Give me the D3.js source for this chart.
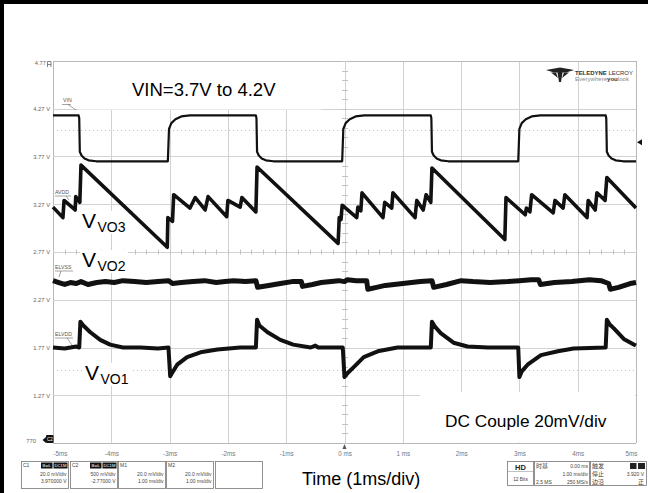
<!DOCTYPE html>
<html><head><meta charset="utf-8">
<script src="https://cdn.jsdelivr.net/npm/d3@7/dist/d3.min.js"></script>
<style>body{margin:0;background:#fff}svg{display:block;font-family:"Liberation Sans",Arial,sans-serif}</style>
</head><body><svg id="c" width="648" height="493"></svg>
<script>
// ---------- data ----------
const timeTicks = [-5,-4,-3,-2,-1,0,1,2,3,4,5];
const timeLabels = ["-5ms","-4ms","-3ms","-2ms","-1ms","0 ms","1 ms","2ms","3ms","4ms","5ms"];
const voltTicks = [4.77,4.27,3.77,3.27,2.77,2.27,1.77,1.27,0.77];
const voltLabels = ["4.77","4.27 V","3.77 V","3.27 V","2.77 V","2.27 V","1.77 V","1.27 V","770"];
const refLevels = [4.05, 1.53];
const triggerLevel = 3.92;

const vinT = [-5,-4.56,-4.55,-4.54,-4.51,-4.46,-4.39,-4.26,-3.03,-3.01,-2.97,-2.90,-2.80,-2.65,
  -1.52,-1.51,-1.50,-1.47,-1.42,-1.35,-1.22,-0.04,-0.02,0.02,0.09,0.19,0.34,
  1.48,1.49,1.50,1.53,1.58,1.65,1.78,2.98,3.00,3.04,3.11,3.21,3.36,
  4.48,4.49,4.50,4.53,4.58,4.65,4.78,5.0];
const vinV = [4.20,4.20,4.17,3.82,3.78,3.75,3.73,3.72,3.72,4.06,4.12,4.16,4.19,4.20,
  4.20,4.17,3.82,3.78,3.75,3.73,3.72,3.72,4.06,4.12,4.16,4.19,4.20,
  4.20,4.17,3.82,3.78,3.75,3.73,3.72,3.72,4.06,4.12,4.16,4.19,4.20,
  4.20,4.17,3.82,3.78,3.75,3.73,3.72,3.72];

const vo3T = [-5.00,-4.83,-4.81,-4.62,-4.61,-4.54,-4.52,-3.04,-3.03,-2.95,-2.93,-2.65,-2.56,-2.39,-2.34,-2.02,-2.00,-1.79,-1.76,-1.52,-1.50,
  -0.11,-0.09,-0.06,-0.04,0.21,0.23,0.28,0.30,0.66,0.69,0.81,0.83,1.21,1.24,1.35,1.40,1.48,1.50,
  2.75,2.77,3.10,3.12,3.18,3.21,3.58,3.61,3.75,3.78,4.16,4.18,4.30,4.33,4.47,4.50,5.00];
const vo3V = [3.24,3.13,3.31,3.21,3.35,3.29,3.68,2.82,3.13,3.09,3.37,3.23,3.34,3.21,3.35,3.14,3.31,3.24,3.34,3.19,3.66,
  2.86,3.13,3.11,3.26,3.13,3.24,3.20,3.39,3.13,3.29,3.23,3.39,3.13,3.31,3.21,3.37,3.29,3.65,
  2.90,3.34,3.16,3.23,3.19,3.37,3.18,3.31,3.23,3.37,3.13,3.31,3.21,3.39,3.31,3.55,3.23];

const vo2T = [-5.00,-4.90,-4.80,-4.70,-4.60,-4.52,-4.40,-4.25,-4.10,-3.95,-3.80,-3.60,-3.40,-3.20,-3.02,-2.95,-2.80,-2.60,-2.40,-2.20,-2.05,-1.90,-1.70,-1.52,
  -1.49,-1.30,-1.10,-0.90,-0.74,-0.72,-0.55,-0.40,-0.10,0.00,0.05,0.20,0.38,0.40,0.55,0.70,1.00,1.30,1.50,1.53,1.75,2.00,2.20,2.50,2.80,3.00,3.20,3.33,3.36,3.60,3.90,4.20,4.40,4.53,4.56,4.70,4.90,5.00];
const vo2V = [2.47,2.45,2.43,2.45,2.44,2.46,2.43,2.45,2.46,2.45,2.47,2.46,2.45,2.46,2.47,2.44,2.45,2.46,2.47,2.45,2.46,2.47,2.46,2.47,
  2.40,2.42,2.44,2.46,2.46,2.41,2.43,2.45,2.47,2.46,2.48,2.47,2.47,2.38,2.40,2.42,2.44,2.46,2.47,2.40,2.43,2.47,2.46,2.45,2.46,2.47,2.48,2.48,2.43,2.45,2.46,2.48,2.47,2.44,2.38,2.40,2.44,2.45];

const vo1T = [-5.00,-4.80,-4.60,-4.55,-4.53,-4.48,-4.36,-4.19,-4.02,-3.80,-3.50,-3.20,-3.02,-2.99,-2.96,-2.87,-2.70,-2.47,-2.18,-1.79,
  -1.52,-1.50,-1.46,-1.32,-1.10,-0.88,-0.58,-0.50,-0.45,-0.03,0.00,0.05,0.15,0.33,0.57,0.91,
  1.48,1.50,1.55,1.65,1.87,2.11,2.46,2.98,3.00,3.04,3.14,3.37,3.66,3.93,4.48,4.50,4.55,4.62,4.79,4.97,5.00];
const vo1V = [1.77,1.76,1.78,1.77,2.04,2.00,1.93,1.85,1.80,1.77,1.77,1.76,1.77,1.47,1.50,1.59,1.67,1.72,1.75,1.77,
  1.77,2.06,2.00,1.93,1.85,1.80,1.77,1.79,1.77,1.77,1.46,1.50,1.56,1.67,1.73,1.77,
  1.77,2.04,1.99,1.92,1.82,1.78,1.77,1.77,1.46,1.52,1.59,1.69,1.73,1.76,1.77,2.06,2.01,1.97,1.86,1.80,1.79];

const boxNames = ["C1","C2","M1","M2",""];
const boxLine1 = ["20.0 mV/div","500 mV/div","20.0 mV/div","20.0 mV/div",""];
const boxLine2 = ["3.970000 V","-2.77000 V","1.00 ms/div","1.00 ms/div",""];

// ---------- drawing ----------
const svg = d3.select("#c");
const W = 648, H = 493;
const x = d3.scaleLinear().domain([-5,5]).range([53,636]);
const y = d3.scaleLinear().domain([0.77,4.77]).range([443,61]);
const px = v => Math.round(v) + 0.5;

svg.append("rect").attr("width",W).attr("height",H).attr("fill","#fff");

// grid
const grid = svg.append("g");
grid.selectAll("line.v").data(timeTicks).join("line")
  .attr("x1",d=>px(x(d))).attr("x2",d=>px(x(d))).attr("y1",y(4.77)).attr("y2",y(0.77))
  .attr("stroke",(d,i)=> (i===0||i===timeTicks.length-1)?"#b8b8b8":"#d2d2d2").attr("stroke-width",1);
grid.selectAll("line.h").data(voltTicks).join("line")
  .attr("y1",d=>px(y(d))).attr("y2",d=>px(y(d))).attr("x1",x(-5)).attr("x2",x(5))
  .attr("stroke",(d,i)=> (i===0||i===voltTicks.length-1)?"#b8b8b8":"#d2d2d2").attr("stroke-width",1);
// minor ticks on centre axes
const minorT = d3.range(-5,5.001,0.2);
grid.selectAll("line.mt").data(minorT).join("line")
  .attr("x1",d=>px(x(d))).attr("x2",d=>px(x(d))).attr("y1",y(2.77)-2.5).attr("y2",y(2.77)+2.5)
  .attr("stroke","#c4c4c4");
const minorV = d3.range(0.77,4.771,0.1);
grid.selectAll("line.mv").data(minorV).join("line")
  .attr("y1",d=>px(y(d))).attr("y2",d=>px(y(d))).attr("x1",x(0)-2.5).attr("x2",x(0)+3.5)
  .attr("stroke","#c4c4c4");
// reference dotted lines
grid.selectAll("line.ref").data(refLevels).join("line")
  .attr("y1",d=>px(y(d))).attr("y2",d=>px(y(d))).attr("x1",x(-5)).attr("x2",x(5))
  .attr("stroke","#bdbdbd").attr("stroke-dasharray","1,3");

// white pasted boxes
svg.append("rect").attr("x",78).attr("y",62).attr("width",243).attr("height",47.5).attr("fill","#fff");
svg.append("rect").attr("x",420).attr("y",392).attr("width",215).attr("height",50.5).attr("fill","#fff");
svg.append("rect").attr("x",80).attr("y",211).attr("width",48).attr("height",23).attr("fill","#fff");
svg.append("rect").attr("x",80).attr("y",250).attr("width",48).attr("height",23).attr("fill","#fff");
svg.append("rect").attr("x",83).attr("y",363).attr("width",48).attr("height",23).attr("fill","#fff");

// axes labels
const xAxis = d3.axisBottom(x).tickValues(timeTicks).tickFormat((d,i)=>timeLabels[i]).tickSize(0).tickPadding(0);
const xa = svg.append("g").attr("transform",`translate(0,${y(0.77)+9})`).call(xAxis);
xa.select(".domain").remove();
xa.selectAll("text").attr("font-size",6.3).attr("fill","#777").attr("font-family","Liberation Sans, Arial, sans-serif");
xa.selectAll(".tick").filter((d,i)=>i===0).select("text").attr("text-anchor","start");
xa.selectAll(".tick").filter((d,i)=>i===timeTicks.length-1).select("text").attr("text-anchor","end").attr("dx",1);

const yAxis = d3.axisLeft(y).tickValues(voltTicks).tickFormat((d,i)=>voltLabels[i]).tickSize(0).tickPadding(0);
const ya = svg.append("g").attr("transform",`translate(50,0)`).call(yAxis);
ya.select(".domain").remove();
ya.selectAll("text").attr("font-size",5.8).attr("fill","#666").attr("font-family","Liberation Sans, Arial, sans-serif");
ya.selectAll(".tick").filter((d,i)=>i===0).select("text").attr("dx",-4).attr("dy","0.6em");
ya.selectAll(".tick").filter((d,i)=>i===voltTicks.length-1).select("text").attr("dx",-14).attr("dy","-0.1em");
// small icon after 4.77
svg.append("path").attr("d","M47.5,67 V61.5 H51 V67 M47.5,64.5 H51").attr("fill","none").attr("stroke","#666").attr("stroke-width",0.8);
// C2 marker badge
svg.append("path").attr("d",`M42.5,${y(0.77)-3} L46,${y(0.77)-6} L46,${y(0.77)} Z`).attr("fill","#111");
svg.append("rect").attr("x",46).attr("y",y(0.77)-8).attr("width",7.5).attr("height",8).attr("rx",1).attr("fill","#111");
svg.append("text").attr("x",49.8).attr("y",y(0.77)-2).attr("text-anchor","middle").attr("font-size",4.5).attr("fill","#fff").text("C2");

// trigger markers
svg.append("path").attr("d",`M${x(5)+1},${y(triggerLevel)} l5,-3 v6 Z`).attr("fill","#111");
svg.append("path").attr("d",`M${x(0)},${y(0.77)+1} l-2,5 h4 Z`).attr("fill","#555");

// traces
const line = d3.line().x(d=>x(d[0])).y(d=>y(d[1])).curve(d3.curveLinear);
const zip = (a,b)=>a.map((t,i)=>[t,b[i]]);
svg.append("path").datum(zip(vo2T,vo2V)).attr("d",line).attr("fill","none").attr("stroke","#111").attr("stroke-width",5).attr("stroke-linejoin","round");
svg.append("path").datum(zip(vo1T,vo1V)).attr("d",line).attr("fill","none").attr("stroke","#111").attr("stroke-width",4).attr("stroke-linejoin","round");
svg.append("path").datum(zip(vo3T,vo3V)).attr("d",line).attr("fill","none").attr("stroke","#111").attr("stroke-width",3.6).attr("stroke-linejoin","round");
svg.append("path").datum(zip(vinT,vinV)).attr("d",line).attr("fill","none").attr("stroke","#111").attr("stroke-width",2.2).attr("stroke-linejoin","round");

// channel tags
const tags = [["VIN",63,102,[[62,104.5,71,104.5],[68,104.5,76,110]]],
              ["AVDD",55,194,[[55,196,71,196],[66,196,69,200]]],
              ["ELVSS",55,269,[[55,271,73,271],[61,271,59,277]]],
              ["ELVDD",55,336,[[55,338,73,338],[67,338,72,345]]]];
tags.forEach(t=>{
  svg.append("text").attr("x",t[1]).attr("y",t[2]).attr("font-size",5.2).attr("fill","#555").text(t[0]);
  t[3].forEach(l=>svg.append("line").attr("x1",l[0]).attr("y1",l[1]).attr("x2",l[2]).attr("y2",l[3]).attr("stroke","#666").attr("stroke-width",0.6));
});

// big annotations
const big = (tx,xx,yy,fs)=>svg.append("text").attr("x",xx).attr("y",yy).attr("font-size",fs).attr("fill","#000").text(tx);
big("VIN=3.7V to 4.2V",132,96,18.5);
big("DC Couple 20mV/div",445,427,17.3);
big("Time (1ms/div)",302,485,18);
big("V",82,228,21); big("VO3",97.5,232,14);
big("V",82,267,21); big("VO2",97.5,271,14);
big("V",85,380,21); big("VO1",100.5,384,14);

// logo
svg.append("path").attr("d","M546,70 L560,67.5 L574,70 L566,72.5 L562.5,72.5 L561,82 L559,82 L557.5,72.5 L554,72.5 Z").attr("fill","#222");
svg.append("path").attr("d","M551,72.5 L556,72.5 L558,78 Z M564,72.5 L569,72.5 L562,78 Z").attr("fill","#222");
svg.append("text").attr("x",575).attr("y",74.5).attr("font-size",6.2).attr("fill","#333").attr("textLength",58).attr("lengthAdjust","spacingAndGlyphs")
  .html('<tspan font-weight="bold">TELEDYNE</tspan> LECROY');
svg.append("text").attr("x",575).attr("y",80.5).attr("font-size",5.2).attr("fill","#888").attr("textLength",54).attr("lengthAdjust","spacingAndGlyphs")
  .html('Everywhere<tspan font-weight="bold" fill="#333">you</tspan>look');

// bottom-left channel boxes
const boxX = [21,70,118,166,215];
const boxW = 47;
const by0 = 461, by1 = 488;
boxX.forEach((bx,i)=>{
  svg.append("rect").attr("x",bx+0.5).attr("y",by0+0.5).attr("width",boxW).attr("height",by1-by0).attr("fill","#fff").attr("stroke","#777").attr("stroke-width",0.8);
  if(boxNames[i]) svg.append("text").attr("x",bx+2).attr("y",by0+6).attr("font-size",5).attr("fill","#444").text(boxNames[i]);
  if(i<2){
    svg.append("rect").attr("x",bx+20).attr("y",by0+1.5).attr("width",11.5).attr("height",6).attr("fill","#111");
    svg.append("text").attr("x",bx+25.7).attr("y",by0+6.3).attr("text-anchor","middle").attr("font-size",4.2).attr("fill","#fff").text("BwL");
    svg.append("rect").attr("x",bx+32.5).attr("y",by0+1.5).attr("width",14).attr("height",6).attr("fill","#111");
    svg.append("text").attr("x",bx+39.5).attr("y",by0+6.3).attr("text-anchor","middle").attr("font-size",4.2).attr("fill","#fff").text("DC1M");
  }
  svg.append("text").attr("x",bx+boxW-1.5).attr("y",by0+15).attr("text-anchor","end").attr("font-size",5).attr("fill","#444").text(boxLine1[i]);
  svg.append("text").attr("x",bx+boxW-1.5).attr("y",by0+22).attr("text-anchor","end").attr("font-size",5).attr("fill","#444").text(boxLine2[i]);
});

// bottom-right status boxes
const cjk = '"Noto Sans CJK SC", sans-serif';
const rb = (bx,bw)=>svg.append("rect").attr("x",bx+0.5).attr("y",461.5).attr("width",bw).attr("height",24).attr("fill","#fff").attr("stroke","#777").attr("stroke-width",0.8);
const rt = (tx,xx,yy,anchor,fs,fam,wt)=>svg.append("text").attr("x",xx).attr("y",yy).attr("text-anchor",anchor||"start").attr("font-size",fs||5).attr("fill","#444").attr("font-family",fam||null).attr("font-weight",wt||null).text(tx);
rb(507,26); rb(534,55); rb(590,56);
svg.append("line").attr("x1",508).attr("x2",533).attr("y1",471.5).attr("y2",471.5).attr("stroke","#999").attr("stroke-width",0.6);
rt("HD",520.5,469.5,"middle",7.5,null,"bold").attr("fill","#222");
rt("12 Bits",520.5,480.5,"middle",4.8);
rt("时基",536,468,"start",6,cjk);
rt("0.00 ms",588,468,"end",5);
rt("1.00 ms/div",588,476,"end",5);
rt("2.5 MS",536,483.5,"start",5);
rt("250 MS/s",588,483.5,"end",5);
rt("触发",592,468,"start",6,cjk);
svg.append("rect").attr("x",630).attr("y",463).attr("width",6.5).attr("height",6).attr("fill","#222");
svg.append("rect").attr("x",638).attr("y",463).attr("width",7).attr("height",6).attr("fill","#222");
rt("停止",592,476,"start",6,cjk);
rt("3.920 V",644,476,"end",5);
rt("边沿",592,483.5,"start",6,cjk);
rt("正",644,483.5,"end",6,cjk);

// outer frame (left/top)
svg.append("rect").attr("x",0).attr("y",0).attr("width",4).attr("height",H).attr("fill","#000");
svg.append("rect").attr("x",0).attr("y",0).attr("width",W).attr("height",4).attr("fill","#000");
</script></body></html>
